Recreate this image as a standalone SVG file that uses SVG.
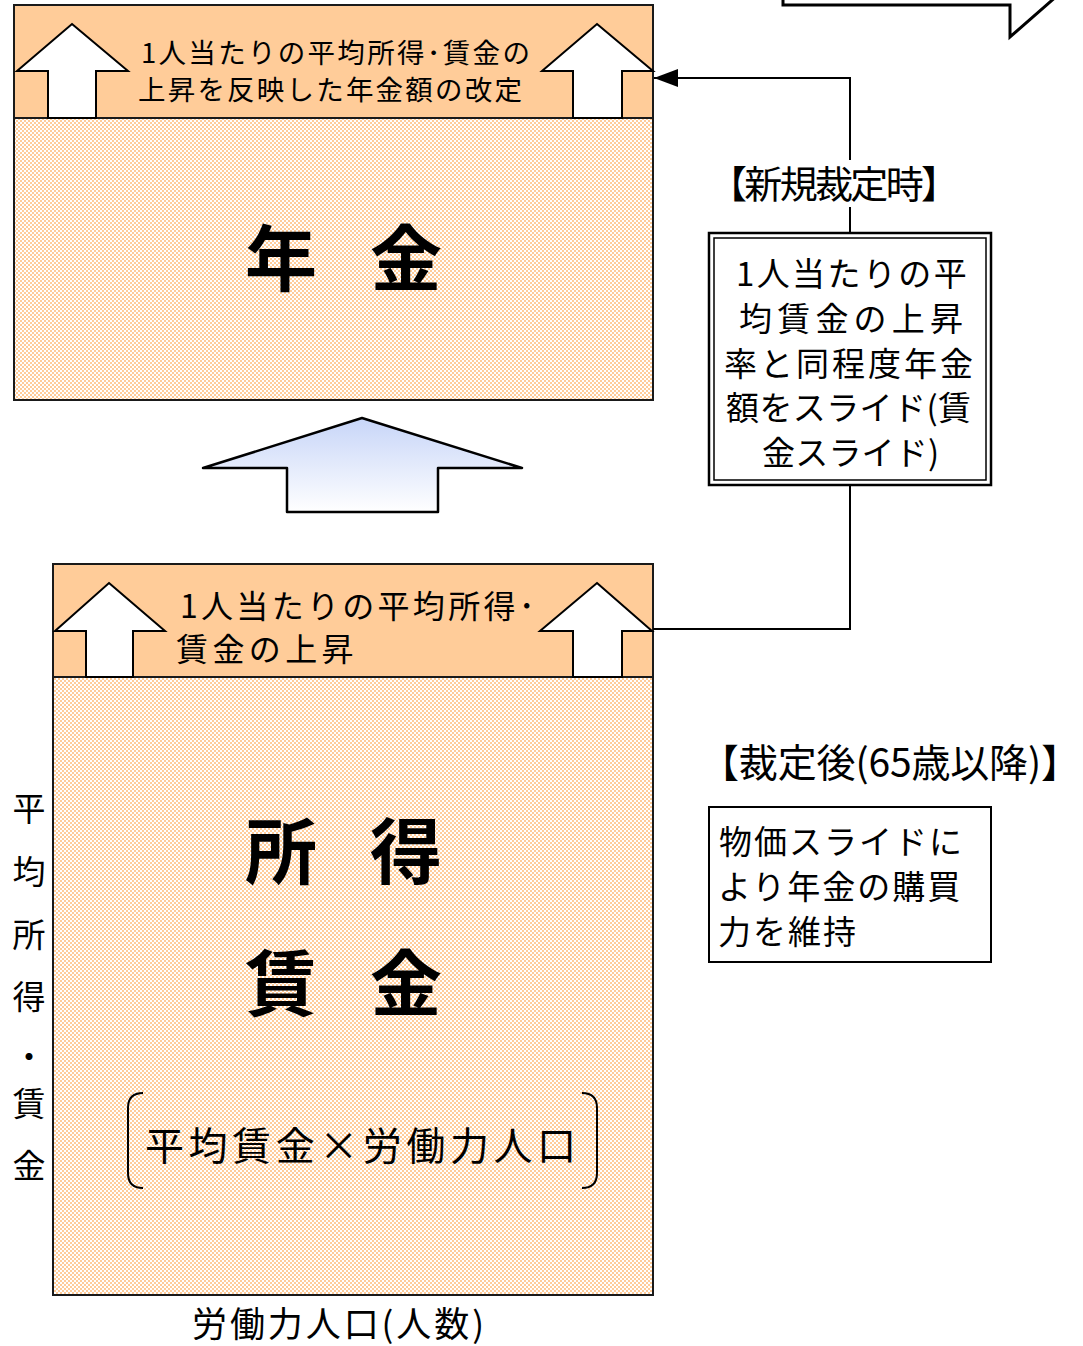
<svg xmlns="http://www.w3.org/2000/svg" width="1083" height="1346" viewBox="0 0 1083 1346">
<style>
text{font-family:"Noto Sans CJK JP","Noto Sans",sans-serif;fill:#000}
.box{stroke:#1a1a1a;stroke-width:2}
.hdr{fill:#FFCC99;stroke:#1a1a1a;stroke-width:2}
.warr{fill:#fff;stroke:#000;stroke-width:2;stroke-linejoin:miter}
.big{font-size:72px;font-weight:bold;text-anchor:middle}
.t27{font-size:27.5px}
.t32{font-size:32px}
.t33{font-size:33px}
.t38{font-size:38px}
.line{fill:none;stroke:#000;stroke-width:2}
</style>
<defs>
<pattern id="chk" width="4" height="4" patternUnits="userSpaceOnUse">
<rect width="4" height="4" fill="#fff"/>
<rect width="2" height="2" fill="#FFCC99"/>
<rect x="2" y="2" width="2" height="2" fill="#FFCC99"/>
</pattern>
<linearGradient id="blu" x1="0" y1="0" x2="0" y2="1">
<stop offset="0" stop-color="#C7D5F8"/>
<stop offset="1" stop-color="#FFFFFF"/>
</linearGradient>
<marker id="ah" markerWidth="24" markerHeight="18" refX="24" refY="9" orient="auto" markerUnits="userSpaceOnUse" viewBox="0 0 24 18">
<path d="M0,0 L24,9 L0,18 Z" fill="#000"/>
</marker>
</defs>
<rect width="1083" height="1346" fill="#fff"/>

<g id="callout-top">
<path d="M783,-5 L783,5 L1010,5 L1010,37 L1058,-5 Z" fill="#fff" stroke="none"/>
<path d="M783,-5 L783,5 L1010,5 L1010,37 L1058,-5" fill="none" stroke="#000" stroke-width="3"/>
</g>

<g id="pension">
<rect x="14" y="5" width="639" height="395" fill="url(#chk)" class="box"/>
<rect x="14" y="5" width="639" height="113" class="hdr"/>
<polygon class="warr" points="72,24 128,71 96,71 96,118 48,118 48,71 17,71"/>
<polygon class="warr" points="597,24 653,71 622,71 622,118 573,118 573,71 542,71"/>
<text class="t27"><tspan x="141" y="63" letter-spacing="2.3">1人当たりの平均所得･賃金の</tspan><tspan x="138" y="100" letter-spacing="2.2">上昇を反映した年金額の改定</tspan></text>
<text class="big" x="281" y="285">年</text>
<text class="big" x="406" y="285">金</text>
</g>

<g id="big-arrow">
<polygon points="362,418 522,468 438,468 438,512 287,512 287,468 203,468" fill="url(#blu)" stroke="#000" stroke-width="2.5" stroke-linejoin="round"/>
</g>

<g id="income">
<rect x="53" y="564" width="600" height="731" fill="url(#chk)" class="box"/>
<rect x="53" y="564" width="600" height="113" class="hdr"/>
<polygon class="warr" points="109,583 165,631 133,631 133,677 86,677 86,631 55,631"/>
<polygon class="warr" points="597,583 652,631 622,631 622,677 573,677 573,631 540,631"/>
<text class="t32"><tspan x="180" y="618" letter-spacing="3.3">1人当たりの平均所得･</tspan><tspan x="176" y="661" letter-spacing="4.4">賃金の上昇</tspan></text>
<text class="big" x="281" y="878">所</text>
<text class="big" x="406" y="878">得</text>
<text class="big" x="281" y="1010">賃</text>
<text class="big" x="406" y="1010">金</text>
<path class="line" d="M143,1093 Q128,1093 128,1108 L128,1173 Q128,1188 143,1188"/>
<path class="line" d="M582,1093 Q597,1093 597,1108 L597,1173 Q597,1188 582,1188"/>
<text x="145" y="1160" textLength="431" lengthAdjust="spacing" style="font-size:39px">平均賃金×労働力人口</text>
</g>

<g id="axis-y">
<text class="t33" x="29" y="821" text-anchor="middle">平</text>
<text class="t33" x="29" y="884" text-anchor="middle">均</text>
<text class="t33" x="29" y="947" text-anchor="middle">所</text>
<text class="t33" x="29" y="1009" text-anchor="middle">得</text>
<text class="t33" x="29" y="1069" text-anchor="middle">・</text>
<text class="t33" x="29" y="1116" text-anchor="middle">賃</text>
<text class="t33" x="29" y="1178" text-anchor="middle">金</text>
</g>

<g id="axis-x">
<text x="192" y="1337" textLength="292" lengthAdjust="spacing" style="font-size:35px">労働力人口(人数)</text>
</g>

<g id="connectors">
<polyline class="line" points="653,629 850,629 850,485"/>
<line class="line" x1="850" y1="233" x2="850" y2="207"/>
<polyline class="line" points="850,160 850,78 654,78" marker-end="url(#ah)"/>
</g>

<g id="label-new">
<text class="t38" x="709" y="198" textLength="250" lengthAdjust="spacing">【新規裁定時】</text>
</g>

<g id="wage-slide">
<rect x="709" y="233" width="282" height="252" fill="#fff" stroke="#000" stroke-width="2.5"/>
<rect x="714" y="238" width="272" height="242" fill="none" stroke="#000" stroke-width="1.5"/>
<text class="t33"><tspan x="736" y="286" letter-spacing="2.4">1人当たりの平</tspan><tspan x="739" y="331" letter-spacing="5.2">均賃金の上昇</tspan><tspan x="724" y="376" letter-spacing="3">率と同程度年金</tspan><tspan x="726" y="420" letter-spacing="0.4">額をスライド(賃</tspan><tspan x="762" y="465" letter-spacing="0.2">金スライド)</tspan></text>
</g>

<g id="label-after">
<text x="700" y="777" textLength="380" lengthAdjust="spacing" style="font-size:39px">【裁定後(65歳以降)】</text>
</g>

<g id="price-slide">
<rect x="709" y="807" width="282" height="155" fill="#fff" stroke="#000" stroke-width="2"/>
<text class="t33" letter-spacing="2"><tspan x="719" y="854">物価スライドに</tspan><tspan x="718" y="899">より年金の購買</tspan><tspan x="718" y="944">力を維持</tspan></text>
</g>
</svg>
